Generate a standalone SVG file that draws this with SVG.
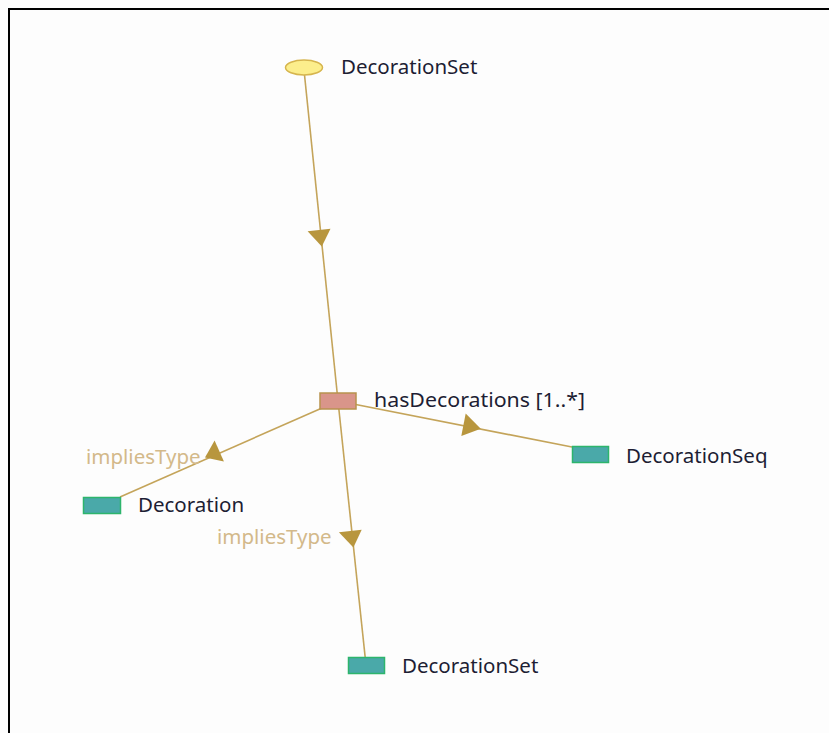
<svg xmlns="http://www.w3.org/2000/svg" width="829" height="733" viewBox="0 0 829 733">
  <style>
    .edge { stroke: #c4a45a; stroke-width: 1.6; fill: none; }
    .head { fill: #b8963e; stroke: none; }
    .lbl { font-family: "Noto Sans", "Open Sans", "DejaVu Sans", sans-serif; font-size: 20.5px; fill: #1e1e34; }
    .elbl { font-family: "Noto Sans", "Open Sans", "DejaVu Sans", sans-serif; font-size: 20.5px; fill: #d3b98a; }
    .cls { fill: #4aa9a9; stroke: #2db56c; stroke-width: 1.5; }
    .prop { fill: #d9958a; stroke: #b8924e; stroke-width: 1.5; }
    .root { fill: #fcee8c; stroke: #d6b54e; stroke-width: 1.5; }
  </style>

  <rect x="0" y="0" width="829" height="733" fill="#fdfdfd"/>
  <path d="M9,733 V9 H829" fill="none" stroke="#000" stroke-width="2"/>

  <g id="connectors">
    <!-- DecorationSet (root) to hasDecorations -->
    <line class="edge" x1="304" y1="70" x2="338" y2="401"/>
    <polygon class="head" points="307.6,231.2 330.5,228.8 321.8,246.5"/>
    <!-- hasDecorations to DecorationSeq -->
    <line class="edge" x1="338" y1="401" x2="572" y2="447"/>
    <polygon class="head" points="465.7,413.4 461.3,435.9 480.8,428.8"/>
    <!-- impliesType to Decoration -->
    <line class="edge" x1="338" y1="401" x2="120" y2="497"/>
    <polygon class="head" points="214.6,440.4 223.9,461.4 205.0,457.5"/>
    <g id="label-implies-1"><text class="elbl" x="86" y="464">impliesType</text></g>
    <!-- impliesType to DecorationSet -->
    <line class="edge" x1="338" y1="401" x2="366" y2="665"/>
    <polygon class="head" points="338.9,532.2 361.7,529.8 353.4,547.5"/>
    <g id="label-implies-2"><text class="elbl" x="217" y="544">impliesType</text></g>
  </g>

  <g id="node-root">
    <ellipse class="root" cx="304" cy="67.5" rx="18.5" ry="7.5"/>
    <text class="lbl" x="341" y="74">DecorationSet</text>
  </g>

  <g id="node-hasDecorations">
    <rect class="prop" x="320" y="393" width="36" height="16"/>
    <text class="lbl" x="374" y="407" textLength="211" lengthAdjust="spacingAndGlyphs">hasDecorations [1..*]</text>
  </g>

  <g id="node-DecorationSeq">
    <rect class="cls" x="572.5" y="446.5" width="36" height="16"/>
    <text class="lbl" x="626" y="463">DecorationSeq</text>
  </g>

  <g id="node-Decoration">
    <rect class="cls" x="83.5" y="497.5" width="37" height="16"/>
    <text class="lbl" x="138" y="512">Decoration</text>
  </g>

  <g id="node-DecorationSet">
    <rect class="cls" x="348.5" y="657.5" width="36" height="16"/>
    <text class="lbl" x="402" y="673">DecorationSet</text>
  </g>
</svg>
